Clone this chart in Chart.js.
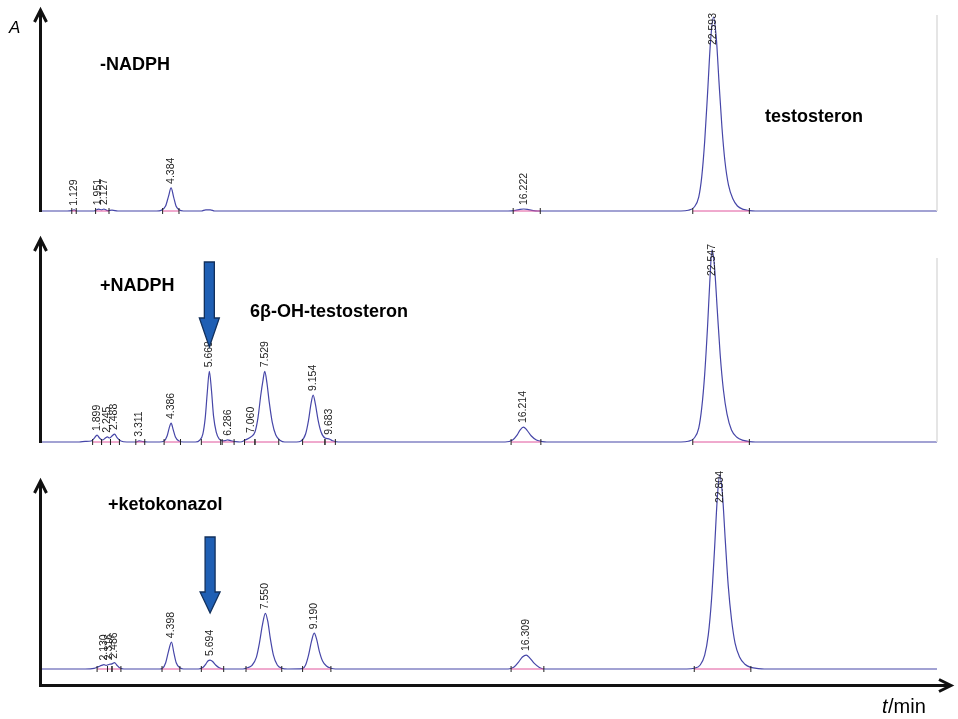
<!DOCTYPE html>
<html>
<head>
<meta charset="utf-8">
<script src="https://cdn.jsdelivr.net/npm/chart.js@4.4.0/dist/chart.umd.min.js"></script>
<style>
  html, body { margin: 0; padding: 0; background: #fff; }
  #wrap { position: relative; width: 958px; height: 719px; overflow: hidden; }
  #wrap canvas { position: absolute; left: 0; }
</style>
</head>
<body>
<div id="wrap">
  <canvas id="c1" width="958" height="230" style="top:0"></canvas>
  <canvas id="c2" width="958" height="230" style="top:230px"></canvas>
  <canvas id="c3" width="958" height="259" style="top:460px"></canvas>
</div>
<script>
// ---- data (time in min, absorbance in arbitrary units) ----
// -NADPH
const time1   = [0, 0.9, 1.05, 1.129, 1.2, 1.8, 1.951, 2.05, 2.127, 2.25, 2.4, 2.6, 3.9, 4.05, 4.2, 4.3, 4.384, 4.47, 4.55, 4.65, 4.8, 5.4, 5.55, 5.7, 5.85, 15.7, 15.95, 16.1, 16.222, 16.35, 16.5, 16.7, 21.5, 21.75, 21.95, 22.1, 22.2, 22.3, 22.4, 22.5, 22.593, 22.69, 22.78, 22.88, 22.98, 23.1, 23.25, 23.4, 23.6, 23.8, 24.0, 30.1];
const signal1 = [0, 0, 0.2, 0.6, 0, 0, 0.9, 0.6, 1.0, 0.2, 0.4, 0, 0, 0.3, 2.5, 7.5, 11.6, 7, 2.5, 0.6, 0, 0, 0.6, 0.6, 0, 0, 0.3, 0.8, 1.0, 0.8, 0.3, 0, 0, 0.4, 2, 7, 17, 35, 60, 86, 97.5, 87, 65, 42, 25, 13, 6, 2.5, 0.8, 0.2, 0, 0];
const peaks1  = [1.129, 1.951, 2.127, 4.384, 16.222, 22.593];
const intStart1 = [1.05, 1.85, 4.1, 15.87, 21.9];
const intEnd1   = [1.2, 2.3, 4.65, 16.78, 23.8];

// +NADPH
const time2   = [0, 1.3, 1.5, 1.7, 1.8, 1.899, 1.98, 2.08, 2.18, 2.245, 2.32, 2.4, 2.488, 2.57, 2.7, 2.9, 3.2, 3.311, 3.45, 3.6, 4.0, 4.15, 4.25, 4.32, 4.386, 4.45, 4.53, 4.65, 4.8, 5.2, 5.35, 5.45, 5.53, 5.6, 5.669, 5.74, 5.81, 5.9, 6.0, 6.1, 6.2, 6.286, 6.4, 6.55, 6.7, 6.9, 7.060, 7.2, 7.3, 7.4, 7.47, 7.529, 7.6, 7.68, 7.78, 7.9, 8.05, 8.2, 8.6, 8.75, 8.9, 9.0, 9.08, 9.154, 9.23, 9.32, 9.42, 9.55, 9.683, 9.8, 10.0, 15.6, 15.85, 16.0, 16.1, 16.214, 16.33, 16.48, 16.65, 16.85, 17.0, 21.5, 21.75, 21.95, 22.1, 22.2, 22.3, 22.4, 22.47, 22.547, 22.63, 22.72, 22.82, 22.93, 23.05, 23.2, 23.38, 23.6, 23.8, 24.0, 30.1];
const signal2 = [0, 0, 0.3, 0.5, 1.8, 3.5, 2.0, 1.0, 2.0, 2.6, 2.0, 3.0, 4.0, 2.2, 0.5, 0, 0, 0.6, 0.2, 0, 0, 0.5, 3, 7, 9.5, 6.5, 2.5, 0.5, 0, 0, 1, 4, 12, 25, 35.5, 26, 13, 5, 1.5, 0.6, 0.7, 1.1, 0.6, 0.2, 0, 1.2, 2.5, 5, 12, 24, 31, 35.5, 30, 20, 10, 3.5, 0.8, 0, 0, 0.5, 4, 11, 19, 23.6, 19, 11, 5, 2, 1.6, 0.6, 0, 0, 1, 3.5, 6, 7.5, 6, 3, 1, 0.2, 0, 0, 0.4, 2, 7, 17, 34, 59, 80, 96.5, 88, 67, 44, 26, 14, 6, 2.4, 0.8, 0.2, 0, 0];
const peaks2  = [1.899, 2.245, 2.488, 3.311, 4.386, 5.669, 6.286, 7.060, 7.529, 9.154, 9.683, 16.214, 22.547];
const intStart2 = [1.75, 2.05, 2.35, 3.2, 4.15, 5.4, 6.1, 6.85, 7.2, 8.8, 9.55, 15.8, 21.9];
const intEnd2   = [2.05, 2.35, 2.65, 3.5, 4.7, 6.05, 6.5, 7.2, 8.0, 9.55, 9.9, 16.8, 23.8];

// +ketokonazol
const time3   = [0, 1.5, 1.8, 1.95, 2.05, 2.130, 2.2, 2.316, 2.4, 2.486, 2.56, 2.65, 2.8, 4.0, 4.1, 4.2, 4.3, 4.398, 4.48, 4.56, 4.68, 4.8, 5.3, 5.45, 5.55, 5.62, 5.694, 5.78, 5.88, 6.0, 6.15, 6.8, 6.95, 7.1, 7.25, 7.35, 7.45, 7.550, 7.63, 7.72, 7.82, 7.95, 8.1, 8.3, 8.8, 8.9, 9.0, 9.1, 9.190, 9.27, 9.36, 9.47, 9.6, 9.75, 9.9, 15.7, 15.9, 16.05, 16.18, 16.309, 16.43, 16.58, 16.75, 16.95, 21.7, 21.95, 22.15, 22.3, 22.42, 22.53, 22.63, 22.72, 22.804, 22.9, 22.99, 23.09, 23.2, 23.32, 23.47, 23.65, 23.85, 24.1, 24.3, 30.1];
const signal3 = [0, 0, 0.3, 1.2, 1.8, 2.2, 1.8, 2.4, 2.6, 3.2, 2, 0.6, 0, 0, 0.4, 3, 9, 13.5, 8, 3, 0.6, 0, 0, 0.8, 2.5, 4, 4.5, 3.8, 2, 0.6, 0, 0, 0.6, 1.8, 6, 13, 22, 28, 24, 15, 7, 2, 0.4, 0, 0.2, 2, 7, 14, 18, 15, 9, 4, 1.5, 0.4, 0, 0, 1, 3.5, 6, 7, 5.5, 2.8, 0.8, 0, 0, 0.4, 2, 7, 17, 35, 60, 85, 97.5, 87, 65, 42, 25, 13, 6, 2.4, 0.8, 0.2, 0, 0];
const peaks3  = [2.130, 2.316, 2.486, 4.398, 5.694, 7.550, 9.190, 16.309, 22.804];
const intStart3 = [1.9, 2.25, 2.4, 4.08, 5.4, 6.9, 8.8, 15.8, 21.95];
const intEnd3   = [2.25, 2.4, 2.7, 4.68, 6.15, 8.1, 9.75, 16.9, 23.85];

const FONT = '"Liberation Sans", Arial, sans-serif';

function toPoints(xs, ys) {
  return xs.map((x, i) => ({ x: x, y: ys[i] }));
}

function segments(starts, ends) {
  const pts = [];
  starts.forEach((s, i) => {
    pts.push({ x: s, y: 0 }, { x: ends[i], y: 0 }, { x: ends[i], y: null });
  });
  return pts;
}

// rotated retention time labels above each peak
const peakLabels = {
  id: 'peakLabels',
  afterDatasetsDraw(chart, args, o) {
    const { ctx, chartArea, scales: { x, y } } = chart;
    ctx.save();
    ctx.font = '10.5px ' + FONT;
    ctx.fillStyle = '#1e1e1e';
    ctx.textBaseline = 'middle';
    ctx.textAlign = 'left';
    o.peaks.forEach(t => {
      const i = o.times.indexOf(t);
      const label = t.toFixed(3);
      const w = ctx.measureText(label).width;
      let bottom = y.getPixelForValue(o.signal[i]) - 4;
      if (bottom - w < chartArea.top) bottom = chartArea.top + w + 1;
      ctx.save();
      ctx.translate(x.getPixelForValue(t), bottom);
      ctx.rotate(-Math.PI / 2);
      ctx.fillText(label, 0, 0);
      ctx.restore();
    });
    ctx.restore();
  }
};

// axes arrows, titles and the blue marker arrows
const decor = {
  id: 'decor',
  afterDraw(chart, args, o) {
    const ctx = chart.ctx;
    const xs = chart.scales.x;
    ctx.save();
    if (o.edgeTop != null) {
      ctx.strokeStyle = '#dcdcdc';
      ctx.lineWidth = 1.5;
      ctx.beginPath();
      ctx.moveTo(937, o.edgeTop);
      ctx.lineTo(937, chart.chartArea.bottom);
      ctx.stroke();
    }
    ctx.strokeStyle = '#111';
    ctx.lineWidth = 3;
    ctx.lineJoin = 'miter';
    ctx.beginPath();
    ctx.moveTo(40.5, o.axisBottom);
    ctx.lineTo(40.5, o.axisTip + 1);
    ctx.stroke();
    ctx.beginPath();
    ctx.moveTo(34.5, o.axisTip + 12);
    ctx.lineTo(40.5, o.axisTip);
    ctx.lineTo(46.5, o.axisTip + 12);
    ctx.stroke();
    if (o.xAxisY != null) {
      ctx.beginPath();
      ctx.moveTo(39, o.xAxisY);
      ctx.lineTo(950, o.xAxisY);
      ctx.stroke();
      ctx.beginPath();
      ctx.moveTo(939, o.xAxisY - 6);
      ctx.lineTo(951, o.xAxisY);
      ctx.lineTo(939, o.xAxisY + 6);
      ctx.stroke();
    }
    ctx.fillStyle = '#000';
    ctx.textBaseline = 'alphabetic';
    o.texts.forEach(tx => {
      ctx.font = tx.font;
      ctx.fillText(tx.text, tx.x, tx.y);
    });
    if (o.arrow) {
      const cx = xs.getPixelForValue(o.arrow.t);
      const a = o.arrow;
      ctx.beginPath();
      ctx.moveTo(cx - 5, a.top);
      ctx.lineTo(cx + 5, a.top);
      ctx.lineTo(cx + 5, a.head);
      ctx.lineTo(cx + 10, a.head);
      ctx.lineTo(cx, a.tip);
      ctx.lineTo(cx - 10, a.head);
      ctx.lineTo(cx - 5, a.head);
      ctx.closePath();
      ctx.fillStyle = '#1f5fb4';
      ctx.fill();
      ctx.strokeStyle = '#12305c';
      ctx.lineWidth = 1.3;
      ctx.stroke();
    }
    ctx.restore();
  }
};

function makePanel(id, times, signal, peaks, starts, ends, pad, decorOpts) {
  return new Chart(document.getElementById(id), {
    type: 'line',
    data: {
      datasets: [{
        data: segments(starts, ends),
        borderColor: '#e0559c',
        borderWidth: 1,
        pointStyle: 'line',
        pointRotation: 90,
        pointRadius: 3,
        pointBorderColor: '#222',
        pointBorderWidth: 1,
        spanGaps: false,
        clip: 6,
        order: 0
      }, {
        data: toPoints(times, signal),
        borderColor: '#4646a8',
        borderWidth: 1.2,
        pointRadius: 0,
        cubicInterpolationMode: 'monotone',
        clip: 6,
        order: 1
      }]
    },
    options: {
      responsive: false,
      animation: false,
      layout: { padding: { left: 40.5, right: 21, top: pad.top, bottom: pad.bottom } },
      scales: {
        x: { type: 'linear', min: 0, max: 30.1, display: false },
        y: { min: 0, max: 100, display: false }
      },
      plugins: {
        legend: { display: false },
        tooltip: { enabled: false },
        peakLabels: { times: times, signal: signal, peaks: peaks },
        decor: decorOpts
      }
    },
    plugins: [peakLabels, decor]
  });
}

makePanel('c1', time1, signal1, peaks1, intStart1, intEnd1, { top: 12, bottom: 19 }, {
  axisTip: 10, axisBottom: 212, edgeTop: 15,
  texts: [
    { text: 'A', x: 9, y: 33, font: 'italic 17px ' + FONT },
    { text: '-NADPH', x: 100, y: 70, font: 'bold 18px ' + FONT },
    { text: 'testosteron', x: 765, y: 122, font: 'bold 18px ' + FONT }
  ]
});

makePanel('c2', time2, signal2, peaks2, intStart2, intEnd2, { top: 13, bottom: 18 }, {
  axisTip: 9, axisBottom: 213, edgeTop: 28,
  texts: [
    { text: '+NADPH', x: 100, y: 61, font: 'bold 18px ' + FONT },
    { text: '6β-OH-testosteron', x: 250, y: 87, font: 'bold 18px ' + FONT }
  ],
  arrow: { t: 5.669, top: 32, head: 88, tip: 117 }
});

makePanel('c3', time3, signal3, peaks3, intStart3, intEnd3, { top: 10, bottom: 50 }, {
  axisTip: 21, axisBottom: 227, xAxisY: 225.5,
  texts: [
    { text: '+ketokonazol', x: 108, y: 50, font: 'bold 18px ' + FONT },
    { text: 't', x: 882, y: 253, font: 'italic 20px ' + FONT },
    { text: '/min', x: 888, y: 253, font: '20px ' + FONT }
  ],
  arrow: { t: 5.694, top: 77, head: 132, tip: 153 }
});
</script>
</body>
</html>
